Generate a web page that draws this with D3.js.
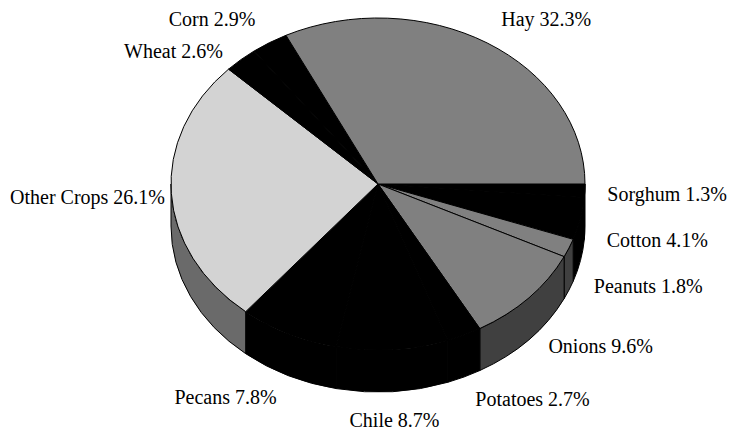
<!DOCTYPE html>
<html>
<head>
<meta charset="utf-8">
<script src="https://cdn.jsdelivr.net/npm/d3@7"></script>
<style>
  html, body { margin: 0; padding: 0; background: #fff; }
  svg { display: block; }
</style>
</head>
<body>
<div id="pieChart"></div>
<script>
// slices in clockwise order, starting at 3 o'clock
const categories = ["Sorghum", "Cotton", "Peanuts", "Onions", "Potatoes", "Chile", "Pecans", "Other Crops", "Wheat", "Corn", "Hay"];
const shares = [1.3, 4.1, 1.8, 9.6, 2.7, 8.7, 7.8, 26.1, 2.6, 2.9, 32.3];
const sliceColors = ["#000000", "#000000", "#808080", "#808080", "#000000", "#000000", "#000000", "#d3d3d3", "#000000", "#000000", "#808080"];

const width = 729, height = 430;
const cx = 378, cy = 184, rx = 207, ry = 166, depth = 42;

const color = d3.scaleOrdinal().domain(categories).range(sliceColors);
const wallColor = c => d3.interpolateRgb(c, "#000")(0.5);

const data = categories.map((label, i) => ({ label: label, value: shares[i] }));

const pie = d3.pie()
  .sort(null)
  .value(d => d.value)
  .startAngle(Math.PI / 2)
  .endAngle(Math.PI / 2 + 2 * Math.PI);

// screen angle: 0 at 3 o'clock, growing clockwise
const slices = pie(data).map(d => ({ ...d, a0: d.startAngle - Math.PI / 2, a1: d.endAngle - Math.PI / 2 }));

const pt = (a, kx = 1, ky = kx) => [cx + rx * kx * Math.cos(a), cy + ry * ky * Math.sin(a)];

function topPath(a0, a1) {
  const [x0, y0] = pt(a0), [x1, y1] = pt(a1);
  const large = a1 - a0 > Math.PI ? 1 : 0;
  return `M${cx},${cy}L${x0},${y0}A${rx},${ry} 0 ${large} 1 ${x1},${y1}Z`;
}

function wallPath(s, e) {
  const [x0, y0] = pt(s), [x1, y1] = pt(e);
  return `M${x0},${y0}A${rx},${ry} 0 0 1 ${x1},${y1}L${x1},${y1 + depth}A${rx},${ry} 0 0 0 ${x0},${y0 + depth}Z`;
}

const svg = d3.select("#pieChart")
  .append("svg")
  .attr("width", width)
  .attr("height", height);

// side walls (only the front half shows)
const walls = slices
  .map(d => ({ d: d, s: Math.max(d.a0, 0), e: Math.min(d.a1, Math.PI) }))
  .filter(w => w.e > w.s);

svg.append("g").selectAll("path")
  .data(walls)
  .enter().append("path")
  .attr("d", w => wallPath(w.s, w.e))
  .attr("fill", w => wallColor(color(w.d.data.label)))
  .attr("stroke", "#000")
  .attr("stroke-width", 1)
  .attr("stroke-linejoin", "round");

// top faces
svg.append("g").selectAll("path")
  .data(slices)
  .enter().append("path")
  .attr("d", d => topPath(d.a0, d.a1))
  .attr("fill", d => color(d.data.label))
  .attr("stroke", "#000")
  .attr("stroke-width", 1)
  .attr("stroke-linejoin", "round");

// labels
const fmt = d3.format(".1f");
const labels = slices.map(d => {
  const m = (d.a0 + d.a1) / 2;
  const c = Math.cos(m), s = Math.sin(m);
  const [x, y] = pt(m, 1.13, 1.17);
  return {
    text: `${d.data.label} ${fmt(d.data.value)}%`,
    x: x,
    y: y + depth * Math.max(0, s),
    anchor: c > 0.15 ? "start" : (c < -0.15 ? "end" : "middle")
  };
});

// push crowded labels apart, per side
function spread(group, gap) {
  group.sort((a, b) => a.y - b.y);
  for (let i = 1; i < group.length; i++) {
    if (group[i].y - group[i - 1].y < gap) group[i].y = group[i - 1].y + gap;
  }
}
spread(labels.filter(l => l.anchor === "start"), 46);
spread(labels.filter(l => l.anchor === "end"), 32);

const txt = svg.append("g")
  .selectAll("text")
  .data(labels)
  .enter().append("text")
  .style("font-family", '"Liberation Serif"')
  .style("font-size", "20px")
  .style("fill", "#000")
  .attr("x", l => l.x)
  .attr("y", l => l.y)
  .attr("dy", "0.35em")
  .attr("text-anchor", l => l.anchor)
  .text(l => l.text);

// keep labels inside the picture
txt.each(function (l) {
  const w = this.getComputedTextLength();
  const left = l.anchor === "end" ? l.x - w : (l.anchor === "middle" ? l.x - w / 2 : l.x);
  if (left < 10) d3.select(this).attr("x", l.x + (10 - left));
  if (left + w > width - 2) d3.select(this).attr("x", l.x - (left + w - width + 2));
});
</script>
</body>
</html>
